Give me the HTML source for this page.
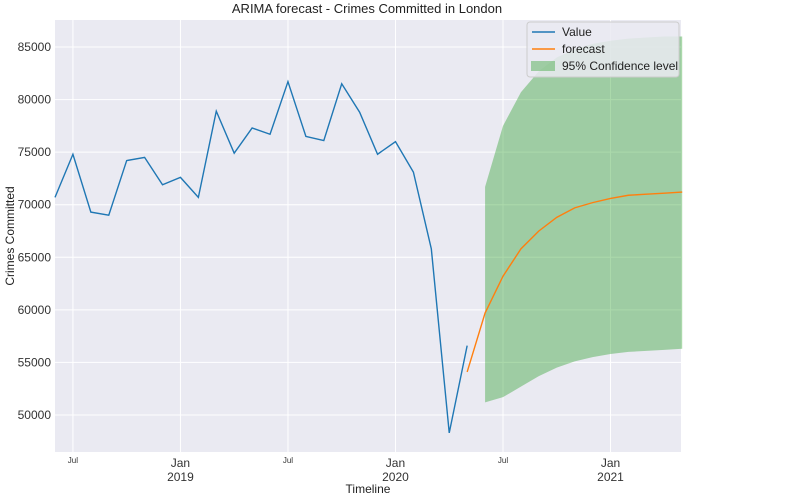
<!DOCTYPE html>
<html><head><meta charset="utf-8"><style>
body{margin:0;background:#fff;font-family:"Liberation Sans",sans-serif}
</style></head><body>
<svg width="801" height="498" xmlns="http://www.w3.org/2000/svg" font-family="Liberation Sans, sans-serif">
<text x="367" y="13" text-anchor="middle" font-size="13" fill="#222">ARIMA forecast - Crimes Committed in London</text>
<rect x="55" y="20" width="626" height="432" fill="#eaeaf2"/>
<g id="grid"></g>
<g id="yticks" font-size="12" fill="#333"></g>
<g id="xticks" fill="#333"></g>
<path id="ci" fill="#2ca02c" fill-opacity="0.4"/>
<path id="val" fill="none" stroke="#1f77b4" stroke-width="1.4"/>
<path id="fc" fill="none" stroke="#ff7f0e" stroke-width="1.4"/>
<text x="14" y="236" transform="rotate(-90 14 236)" text-anchor="middle" font-size="12" fill="#222">Crimes Committed</text>
<text x="368" y="493" text-anchor="middle" font-size="12" fill="#222">Timeline</text>
<g>
<rect x="527" y="22" width="152" height="55" rx="3" fill="#eaeaf2" fill-opacity="0.85" stroke="#ccc"/>
<line x1="532" y1="32" x2="555" y2="32" stroke="#1f77b4" stroke-width="1.5"/>
<text x="562" y="36" font-size="12" fill="#222">Value</text>
<line x1="532" y1="49" x2="555" y2="49" stroke="#ff7f0e" stroke-width="1.5"/>
<text x="562" y="53" font-size="12" fill="#222">forecast</text>
<rect x="531" y="61" width="24" height="10" fill="#2ca02c" fill-opacity="0.4"/>
<text x="562" y="70" font-size="12" fill="#222">95% Confidence level</text>
</g>
</svg>
<script>
const valueMonths=[0,1,2,3,4,5,6,7,8,9,10,11,12,13,14,15,16,17,18,19,20,21,22,23];
const values=[70700,74800,69300,69000,74200,74500,71900,72600,70700,78900,74900,77300,76700,81700,76500,76100,81500,78800,74800,76000,73100,65800,48300,56600];
const fcMonths=[23,24,25,26,27,28,29,30,31,32,33,34,35];
const forecast=[54100,59700,63200,65800,67500,68800,69700,70200,70600,70900,71000,71100,71200];
const ciMonths=[24,25,26,27,28,29,30,31,32,33,34,35];
const ciUpper=[71700,77500,80700,82700,84000,84800,85300,85600,85800,85900,86000,86000];
const ciLower=[51200,51700,52700,53700,54500,55100,55500,55800,56000,56100,56200,56300];
const yTicks=[50000,55000,60000,65000,70000,75000,80000,85000];
const xTickMonths=[1,7,13,19,25,31];
const xTickLabels=[["Jul",""],["Jan","2019"],["Jul",""],["Jan","2020"],["Jul",""],["Jan","2021"]];
const NS="http://www.w3.org/2000/svg";
const X=m=>55+m*17.92;
const Y=v=>415-(v-50000)*52.57/5000;
function mk(t,a,p){const e=document.createElementNS(NS,t);for(const k in a)e.setAttribute(k,a[k]);p.appendChild(e);return e;}
const grid=document.getElementById('grid'),yt=document.getElementById('yticks'),xt=document.getElementById('xticks');
yTicks.forEach(v=>{
 const l=mk('line',{x1:55,x2:681,y1:Y(v),y2:Y(v),stroke:'#fff','stroke-width':1},grid);
 
 
 const t=mk('text',{x:51,y:Y(v)+4,'text-anchor':'end'},yt);t.textContent=v;
 
 
});
xTickMonths.forEach((m,i)=>{
 const l=mk('line',{x1:X(m),x2:X(m),y1:20,y2:452,stroke:'#fff','stroke-width':1},grid);
 
 
 const lab=xTickLabels[i];
 const t=mk('text',{x:X(m),y:lab[1]?467:463,'text-anchor':'middle','font-size':lab[1]?12:8},xt);t.textContent=lab[0];
 
 
 if(lab[1]){const t2=mk('text',{x:X(m),y:481,'text-anchor':'middle','font-size':12},xt);t2.textContent=lab[1];
 
 }
});
document.getElementById('val').setAttribute('d',values.map((v,i)=>(i?'L':'M')+X(valueMonths[i])+','+Y(v)).join(''));
document.getElementById('fc').setAttribute('d',forecast.map((v,i)=>(i?'L':'M')+X(fcMonths[i])+','+Y(v)).join(''));
let d=ciUpper.map((v,i)=>(i?'L':'M')+X(ciMonths[i])+','+Y(v)).join('');
for(let i=ciLower.length-1;i>=0;i--)d+='L'+X(ciMonths[i])+','+Y(ciLower[i]);
document.getElementById('ci').setAttribute('d',d+'Z');
</script>
</body></html>
